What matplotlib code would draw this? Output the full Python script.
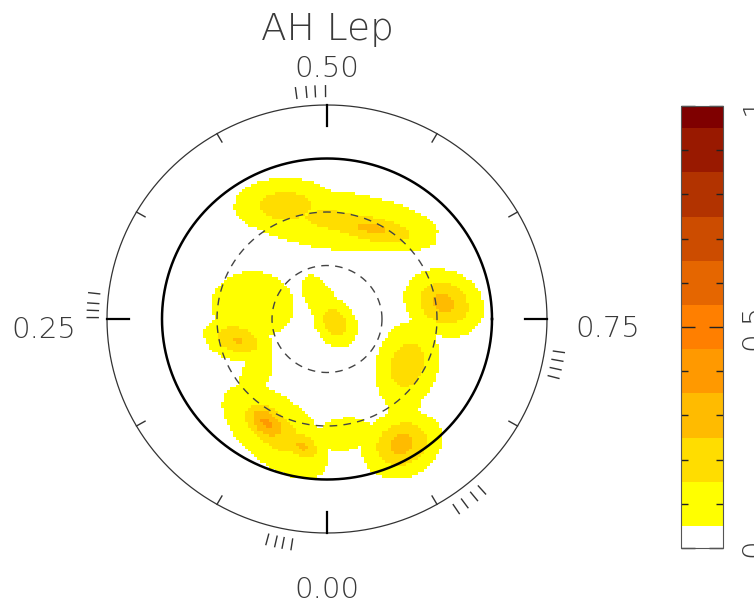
import numpy as np
import matplotlib
matplotlib.use('Agg')
import matplotlib.pyplot as plt
from matplotlib.colors import ListedColormap, BoundaryNorm

# spot model: centre (phase, latitude), gaussian widths in degrees,
# tilt of the long axis in the projected plane, peak spot filling factor
spot_phase = [0.517, 0.571, 0.445, 0.280, 0.2125, 0.143, 0.808, 0.456,
              0.728, 0.834, 0.778, 0.882, 0.916, 0.976, 0.067, 0.082, 0.030]
spot_lat = [34.2, 33.4, 22.1, 48.3, 39.5, 39.7, 85.3, 80.1,
            25.0, 38.8, 38.5, 26.9, 8.1, 24.2, 20.6, 22.4, 16.9]
spot_wlong = [35.4, 19.9, 16.6, 17.1, 10.5, 14.4, 8.8, 13.0,
              12.2, 14.4, 8.3, 7.7, 12.2, 11.1, 21.0, 10.0, 7.7]
spot_wshort = [10.5, 6.1, 9.4, 14.4, 6.6, 6.1, 6.6, 6.2,
               10.0, 10.0, 6.6, 6.6, 10.0, 6.6, 11.1, 6.6, 5.5]
spot_tilt = [-7, -10, 0, 0, -15, 69, -59, -59,
             -25, 76, 60, 30, 25, 10, -40, -40, -30]
spot_peak = [0.17, 0.27, 0.21, 0.12, 0.26, 0.11, 0.22, 0.12,
             0.28, 0.22, 0.12, 0.12, 0.29, 0.13, 0.20, 0.37, 0.27]

# phases of the observed spectra
obs_phases = [0.024, 0.030, 0.035, 0.041, 0.251, 0.256, 0.261, 0.268,
              0.479, 0.486, 0.492, 0.499, 0.773, 0.779, 0.785, 0.791,
              0.885, 0.892, 0.900, 0.907]

phase_labels = ['0.00', '0.25', '0.50', '0.75']
levels = [0, 0.05, 0.15, 0.25, 0.35, 0.45, 0.55, 0.65, 0.75, 0.85, 0.95, 1.0]
colors = ['#FFFFFF', '#FFFF00', '#FFDD00', '#FFBB00', '#FF9900', '#FF7F00',
          '#E56600', '#CC4C00', '#B23300', '#991900', '#7F0000']

LAT_MIN = -30.0


def to_plane(phase, lat):
    r = (90.0 - np.asarray(lat)) / (90.0 - LAT_MIN)
    th = np.radians(-90.0 - 360.0 * np.asarray(phase))
    return r * np.cos(th), r * np.sin(th)


# build the map on a pixel grid
n = 147
g = np.linspace(-1, 1, n)
X, Y = np.meshgrid(g, g)
field = np.zeros_like(X)
for p, la, wl, ws, t, a in zip(spot_phase, spot_lat, spot_wlong, spot_wshort,
                               spot_tilt, spot_peak):
    cx, cy = to_plane(p, la)
    c, s = np.cos(np.radians(t)), np.sin(np.radians(t))
    u = (X - cx) * c + (Y - cy) * s
    v = -(X - cx) * s + (Y - cy) * c
    sa, sb = wl / 120.0, ws / 120.0
    field = np.maximum(field, a * np.exp(-0.5 * ((u / sa) ** 2 + (v / sb) ** 2)))
field = np.ma.masked_where((np.hypot(X, Y) > 1) | (field < 0.05), field)

cmap = ListedColormap(colors)
norm = BoundaryNorm(levels, cmap.N)

fig = plt.figure(figsize=(7.54, 6.04), dpi=100)
ax = fig.add_axes([0, 0, 1, 1])
im = ax.imshow(field, extent=(-1, 1, -1, 1), origin='lower', cmap=cmap, norm=norm,
               interpolation='nearest', aspect='auto', zorder=1)
ax.set_xlim(-327 / 220, 427 / 220)
ax.set_ylim(-285 / 214, 319 / 214)
ax.axis('off')

t = np.linspace(0, 2 * np.pi, 721)
ax.plot(np.cos(t), np.sin(t), color='#333333', lw=0.9, zorder=3)
ax.plot(0.75 * np.cos(t), 0.75 * np.sin(t), color='black', lw=1.8, zorder=3)
for rr in (0.5, 0.25):
    ax.plot(rr * np.cos(t), rr * np.sin(t), color='#444444', lw=1.0,
            dashes=(5.5, 4.5), zorder=3)

# phase ticks on the outer circle
for k in range(12):
    major = k % 3 == 0
    x0, y0 = to_plane(k / 12, LAT_MIN)
    x1, y1 = to_plane(k / 12, LAT_MIN + (12 if major else 5.4))
    ax.plot([x0, x1], [y0, y1], color='black' if major else '#333333',
            lw=1.6 if major else 1.0, zorder=3)

# observation phases
for p in obs_phases:
    th = np.radians(-90.0 - 360.0 * p)
    ax.plot([1.04 * np.cos(th), 1.09 * np.cos(th)],
            [1.04 * np.sin(th), 1.09 * np.sin(th)], color='#333333', lw=1.0)

tkw = dict(fontsize=21, color='#3a3a3a', ha='center', va='baseline',
           fontweight='light')
ax.text(0, -1.305, phase_labels[0], **tkw)
ax.text(-1.286, -0.089, phase_labels[1], **tkw)
ax.text(0, 1.131, phase_labels[2], **tkw)
ax.text(1.277, -0.084, phase_labels[3], **tkw)
ax.text(0, 1.304, 'AH Lep', fontsize=27, color='#3a3a3a', ha='center',
        va='baseline', fontweight='light')

cax = fig.add_axes([681 / 754, 56 / 604, 42 / 754, 442 / 604])
cb = fig.colorbar(im, cax=cax, spacing='proportional', ticks=[0, 0.5, 1])
cb.outline.set_edgecolor('#555555')
cb.outline.set_linewidth(0.8)
cax.set_yticks([0.1, 0.2, 0.3, 0.4, 0.6, 0.7, 0.8, 0.9], minor=True)
cax.set_yticklabels(['0', '0.5', '1'], rotation=90, va='center', fontsize=21,
                    color='#3a3a3a', fontweight='light')
cax.tick_params(which='both', direction='in', left=True, right=True,
                labelleft=False, labelright=True, color='#222222')
cax.tick_params(which='major', length=10, width=1.0, pad=12)
cax.tick_params(which='minor', length=5, width=1.0)

fig.savefig('out.png', dpi=100)
